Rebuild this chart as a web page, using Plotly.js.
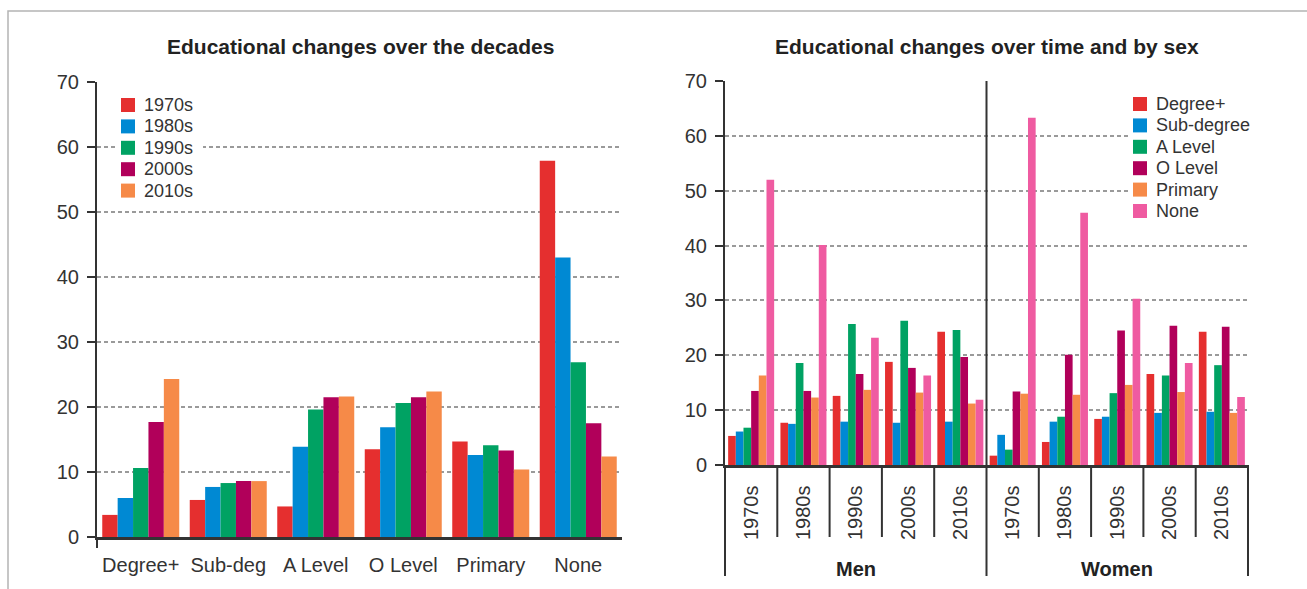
<!DOCTYPE html>
<html><head><meta charset="utf-8">
<script src="https://cdn.plot.ly/plotly-3.0.1.min.js"></script>
<style>html,body{margin:0;padding:0;background:#fff}</style>
</head><body><div id="chart" style="width:1307px;height:589px"></div>
<script>
// ---- Left chart data ----
const levels = ['Degree+', 'Sub-deg', 'A Level', 'O Level', 'Primary', 'None'];
const decades = ['1970s', '1980s', '1990s', '2000s', '2010s'];
const decade1970s = [3.4, 5.7, 4.7, 13.5, 14.7, 57.9];
const decade1980s = [6.0, 7.7, 13.9, 16.9, 12.6, 43.0];
const decade1990s = [10.6, 8.3, 19.6, 20.6, 14.1, 26.9];
const decade2000s = [17.7, 8.6, 21.5, 21.5, 13.3, 17.5];
const decade2010s = [24.3, 8.6, 21.6, 22.4, 10.4, 12.4];

// ---- Right chart data (Men 1970s..2010s, then Women 1970s..2010s) ----
const sexes = ['Men', 'Women'];
const sexLevels = ['Degree+', 'Sub-degree', 'A Level', 'O Level', 'Primary', 'None'];
const degreePlus = [5.3, 7.7, 12.6, 18.8, 24.3, 1.7, 4.2, 8.4, 16.6, 24.3];
const subDegree  = [6.1, 7.5, 7.9, 7.7, 7.9, 5.5, 7.9, 8.8, 9.5, 9.7];
const aLevel     = [6.8, 18.6, 25.7, 26.3, 24.6, 2.8, 8.8, 13.1, 16.3, 18.2];
const oLevel     = [13.5, 13.5, 16.6, 17.7, 19.7, 13.4, 20.1, 24.5, 25.4, 25.2];
const primary    = [16.3, 12.3, 13.7, 13.2, 11.2, 13.0, 12.8, 14.6, 13.3, 9.5];
const none       = [52.0, 40.1, 23.2, 16.3, 11.9, 63.3, 46.0, 30.3, 18.6, 12.4];

const colors = ['#e52f2f', '#0089d3', '#00a263', '#b1005a', '#f68a48', '#ef5ba1'];
const FONT = 'Liberation Sans, Arial, Helvetica, sans-serif';
const W = 1307, H = 589;
const px = v => v / W;
const py = v => (H - v) / H;

const leftSeries = [decade1970s, decade1980s, decade1990s, decade2000s, decade2010s];
const rightSeries = [degreePlus, subDegree, aLevel, oLevel, primary, none];

// category keys for the right chart: one per (sex, decade)
const catKeys = [], catText = [];
sexes.forEach(s => decades.forEach(d => { catKeys.push(s + ' ' + d); catText.push(d); }));

const traces = [];
leftSeries.forEach((ys, i) => traces.push({
  type: 'bar', x: levels, y: ys, name: decades[i],
  marker: {color: colors[i]}, xaxis: 'x', yaxis: 'y', showlegend: false,
  hoverinfo: 'skip'
}));
rightSeries.forEach((ys, i) => traces.push({
  type: 'bar', x: catKeys, y: ys, name: sexLevels[i],
  marker: {color: colors[i]}, xaxis: 'x2', yaxis: 'y2', showlegend: false,
  hoverinfo: 'skip'
}));

const axLine = '#333';
const yAxisCommon = {
  range: [0, 70], dtick: 10, showline: true, linecolor: axLine, linewidth: 2,
  ticks: 'outside', ticklen: 8, tickwidth: 2, tickcolor: axLine,
  tickfont: {family: FONT, size: 20, color: '#333'},
  showgrid: true, gridcolor: '#9a9a9a', gridwidth: 2, griddash: '4px,3px',
  zeroline: false, fixedrange: true, ticklabelstandoff: 4
};

const shapes = [];
const annotations = [];
// outer frame
shapes.push({type: 'rect', xref: 'paper', yref: 'paper', x0: px(8), x1: 1.01, y0: -0.02, y1: py(11),
  line: {color: '#b4b4b4', width: 1.5}, layer: 'below'});
// left y-axis extension below zero
shapes.push({type: 'line', xref: 'x domain', yref: 'paper', x0: 0, x1: 0, y0: py(537), y1: py(548),
  line: {color: axLine, width: 2}});
// right chart dividers
const nCat = catKeys.length;
for (let i = 0; i <= nCat; i++) {
  const isOuter = (i % decades.length === 0);
  const isMid = isOuter && i > 0 && i < nCat;
  shapes.push({type: 'line', xref: 'x2 domain', yref: 'paper', x0: i / nCat, x1: i / nCat,
    y0: py(isOuter ? 576 : 537), y1: isMid ? py(81) : py(465),
    line: {color: axLine, width: 2}});
}
// group labels (Men / Women)
sexes.forEach((s, k) => annotations.push({
  text: '<b>' + s + '</b>', xref: 'x2 domain', yref: 'paper',
  x: (k + 0.5) / sexes.length, y: py(569), xanchor: 'center', yanchor: 'middle',
  showarrow: false, font: {family: FONT, size: 20, color: '#222'}
}));

// legends (drawn as keys + text)
function addLegend(names, left, top, boxRight) {
  const step = 21.4, sq = 14;
  shapes.push({type: 'rect', xref: 'paper', yref: 'paper', layer: 'above',
    x0: px(left - 3), x1: px(boxRight), y0: py(top + step * (names.length - 1) + 10), y1: py(top - 11),
    fillcolor: '#fff', line: {width: 0}});
  names.forEach((n, i) => {
    const cy = top + step * i;
    shapes.push({type: 'rect', xref: 'paper', yref: 'paper', layer: 'above',
      x0: px(left), x1: px(left + sq), y0: py(cy + sq / 2), y1: py(cy - sq / 2),
      fillcolor: colors[i], line: {width: 0}});
    annotations.push({text: n, xref: 'paper', yref: 'paper', x: px(left + 21), y: py(cy),
      xanchor: 'left', yanchor: 'middle', showarrow: false,
      font: {family: FONT, size: 18, color: '#333'}});
  });
}
addLegend(decades, 121, 105, 203);
addLegend(sexLevels, 1133, 104, 1252);

annotations.push(
  {text: '<b>Educational changes over the decades</b>', xref: 'paper', yref: 'paper',
   x: px(360), y: py(47), xanchor: 'center', yanchor: 'middle', showarrow: false,
   font: {family: FONT, size: 21, color: '#222'}},
  {text: '<b>Educational changes over time and by sex</b>', xref: 'paper', yref: 'paper',
   x: px(987), y: py(47), xanchor: 'center', yanchor: 'middle', showarrow: false,
   font: {family: FONT, size: 21, color: '#222'}}
);

const layout = {
  width: W, height: H, margin: {l: 0, r: 0, t: 0, b: 0},
  paper_bgcolor: '#fff', plot_bgcolor: 'rgba(0,0,0,0)',
  font: {family: FONT, color: '#333'},
  barmode: 'group', bargap: 0.12, bargroupgap: 0,
  showlegend: false,
  xaxis: {
    domain: [px(97), px(622)], anchor: 'y', type: 'category',
    showline: true, linecolor: axLine, linewidth: 2.5, ticks: '', showgrid: false,
    tickfont: {family: FONT, size: 20, color: '#333'}, ticklabelstandoff: 8,
    fixedrange: true
  },
  yaxis: Object.assign({}, yAxisCommon, {domain: [py(537), py(82)], anchor: 'x'}),
  xaxis2: {
    domain: [px(725), px(1248)], anchor: 'y2', type: 'category',
    tickmode: 'array', tickvals: catKeys, ticktext: catText,
    showline: true, linecolor: axLine, linewidth: 2.5, showgrid: false,
    ticks: '', ticklabelstandoff: 10, tickangle: -90,
    tickfont: {family: FONT, size: 20, color: '#333'}, fixedrange: true
  },
  yaxis2: Object.assign({}, yAxisCommon, {domain: [py(465), py(81)], anchor: 'x2'}),
  annotations: annotations,
  shapes: shapes
};

Plotly.newPlot('chart', traces, layout, {displayModeBar: false, staticPlot: true});
</script>
</body></html>
